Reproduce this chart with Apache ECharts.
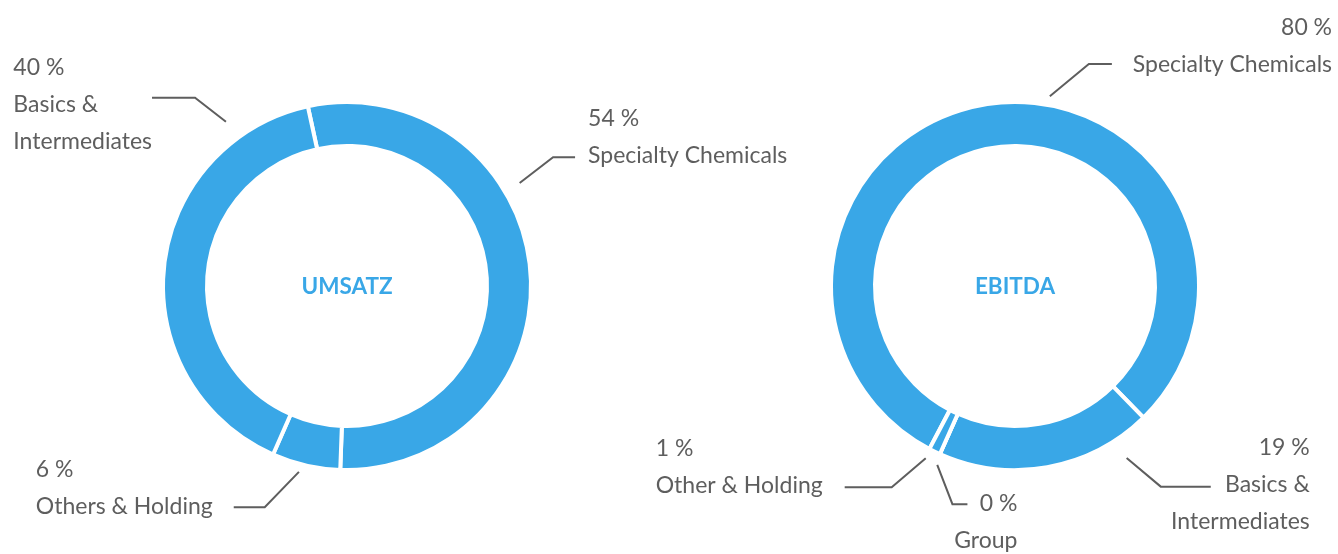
<!DOCTYPE html>
<html><head><meta charset="utf-8">
<script src="https://cdn.jsdelivr.net/npm/echarts@6/dist/echarts.min.js"></script>
<style>html,body{margin:0;padding:0;background:#fff}#c{width:1338px;height:554px}</style>
</head><body><div id="c"></div>
<script>
// ---- data ----
const umsatzCategories = ['Specialty Chemicals', 'Others & Holding', 'Basics &\nIntermediates'];
const umsatzValues = [54, 6, 40];
const ebitdaCategories = ['Specialty Chemicals', 'Basics &\nIntermediates', 'Group', 'Other & Holding'];
const ebitdaValues = [80, 19, 0, 1];
const chartTitles = ['UMSATZ', 'EBITDA'];

// ---- layout / style ----
const centers = [[347, 286], [1015, 286]];
const startAngles = [102.3, -117.7];
const ROW = 37;
// label line geometry: [startAngle(cw from top), startR, elbowAngle, elbowR, horizontal]
const lineGeo = [
  [[59.2, 201, 58, 243, 22], [194.5, 192, 200.4, 236, -31], [323.6, 204, 321.1, 242, -43]],
  [[10.4, 193, 18.4, 234, 23], [147, 205, 144, 248, 50], [203.5, 195, 196, 227, 15], [207.4, 194, 211.5, 236, -47]]
];
// text placement: [boxAlign, dx, anchorRow, dy, rowAlign]
const textGeo = [
  [['left', 13, 1, -2, 'left'], ['right', -21, 1, -1, 'left'], ['right', 0, 1, 7, 'left']],
  [['left', 21, 1, 1, 'right'], ['right', 99, 1, -2, 'right'], ['right', 50, 0, -1, 'right'], ['right', -22, 1, -2, 'left']]
];
const BLUE = '#39a7e7';
const GREY = '#5e5e5e';
const textBase = { fontFamily: 'Lato', fontWeight: 'normal', fontSize: 23, lineHeight: ROW, color: GREY };

function makeSeries(si, cats, vals) {
  return {
    type: 'pie',
    center: centers[si],
    radius: [140, 184],
    startAngle: startAngles[si],
    clockwise: true,
    avoidLabelOverlap: false,
    silent: true,
    animation: false,
    itemStyle: { color: BLUE, borderColor: '#fff', borderWidth: 4 },
    emphasis: { disabled: true },
    label: Object.assign({
      show: true,
      position: 'outside',
      formatter: p => {
        const ra = textGeo[p.seriesIndex][p.dataIndex][4] === 'right' ? 'r' : 'l';
        return '{v' + ra + '|' + p.value + ' %}\n{n' + ra + '|' + p.name + '}';
      },
      rich: {
        vl: Object.assign({ align: 'left' }, textBase),
        nl: Object.assign({ align: 'left' }, textBase),
        vr: Object.assign({ align: 'right' }, textBase),
        nr: Object.assign({ align: 'right' }, textBase)
      }
    }, textBase),
    labelLine: { show: true, length: 10, length2: 10, smooth: false, lineStyle: { color: GREY, width: 2 } },
    labelLayout: function (p) {
      const s_i = p.seriesIndex, d_i = p.dataIndex;
      const c = centers[s_i];
      const g = lineGeo[s_i][d_i], t = textGeo[s_i][d_i];
      const pt = (a, r) => [c[0] + r * Math.sin(a * Math.PI / 180), c[1] - r * Math.cos(a * Math.PI / 180)];
      const s = pt(g[0], g[1]), e = pt(g[2], g[3]);
      const end = [e[0] + g[4], e[1]];
      return {
        x: end[0] + t[1],
        y: end[1] + t[3] - (t[2] + 0.5) * ROW,
        align: t[0],
        verticalAlign: 'top',
        labelLinePoints: [s, e, end]
      };
    },
    data: cats.map((n, i) => ({ name: n, value: vals[i] }))
  };
}

const chart = echarts.init(document.getElementById('c'), null, { renderer: 'canvas' });
chart.setOption({
  animation: false,
  backgroundColor: '#fff',
  series: [makeSeries(0, umsatzCategories, umsatzValues), makeSeries(1, ebitdaCategories, ebitdaValues)],
  graphic: chartTitles.map((t, i) => ({
    type: 'text',
    x: centers[i][0],
    y: centers[i][1] + 1,
    silent: true,
    style: { text: t, fill: BLUE, fontFamily: 'Lato', fontWeight: 'bold', fontSize: 22.5, align: 'center', verticalAlign: 'middle' }
  }))
});
</script>
</body></html>
